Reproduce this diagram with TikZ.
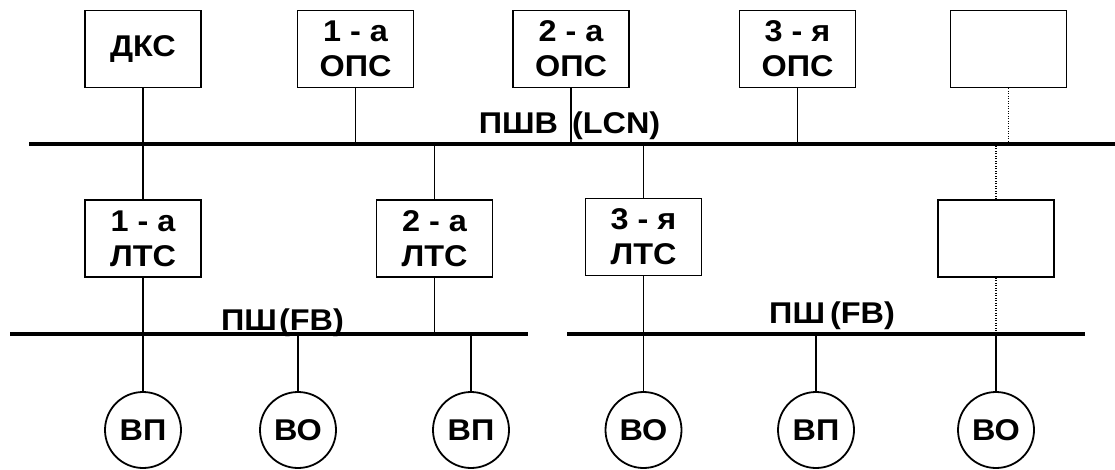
\documentclass[tikz,border=0pt]{standalone}
\usepackage{fontspec}
\setmainfont{Liberation Sans}[FakeStretch=1.08]
\begin{document}
\begin{tikzpicture}[x=1pt,y=-1pt,
    every node/.style={font=\fontsize{30}{35}\selectfont\bfseries},
    blok/.style={draw,line width=1.8pt,minimum width=116pt,minimum height=77pt,align=center,inner sep=0pt},
    pribor/.style={draw,circle,line width=1.8pt,minimum size=76pt,inner sep=0pt},
    shina/.style={line width=4.5pt},
    svyaz/.style={line width=1.3pt},
    punktir/.style={line width=1.2pt,dash pattern=on 1pt off 1.5pt}]
    \useasboundingbox (0,0) rectangle (1115,469);
    % stations on the LCN
    \node [blok] (dks)  at (143,49) {ДКС};
    \node [blok] (ops1) at (355.5,49) {1 - а\\ОПС};
    \node [blok] (ops2) at (571,49) {2 - а\\ОПС};
    \node [blok] (ops3) at (797.5,49) {3 - я\\ОПС};
    \node [blok] (topx) at (1008.5,49) {};
    \node [blok] (lts1) at (143,238.5) {1 - а\\ЛТС};
    \node [blok] (lts2) at (434.5,238.5) {2 - а\\ЛТС};
    \node [blok] (lts3) at (643.5,237) {3 - я\\ЛТС};
    \node [blok] (lowx) at (996,238.5) {};
    % field devices
    \node [pribor] (vp1) at (143,430) {ВП};
    \node [pribor] (vo1) at (298,430) {ВО};
    \node [pribor] (vp2) at (471,430) {ВП};
    \node [pribor] (vo2) at (643.5,430) {ВО};
    \node [pribor] (vp3) at (816,430) {ВП};
    \node [pribor] (vo3) at (996,430) {ВО};
    % buses
    \coordinate (lcnL) at (29,144);
    \coordinate (lcnR) at (1115,144);
    \coordinate (fbaL) at (10,334);
    \coordinate (fbaR) at (528,334);
    \coordinate (fbbL) at (567,334);
    \coordinate (fbbR) at (1085,334);
    \draw [shina] (lcnL) -- (lcnR);
    \draw [shina] (fbaL) -- (fbaR);
    \draw [shina] (fbbL) -- (fbbR);
    \node [anchor=base] (lcn) at (569.5,133) {ПШВ\hspace{14pt}(LCN)};
    \node [anchor=base] (fba) at (282.5,330) {ПШ\hspace{2pt}(FB)};
    \node [anchor=base] (fbb) at (832,323) {ПШ\hspace{5pt}(FB)};
    % taps
    \draw [svyaz] (dks) -- (lts1);
    \draw [svyaz] (ops1) -- (ops1 |- lcnL);
    \draw [svyaz] (ops2) -- (ops2 |- lcnL);
    \draw [svyaz] (ops3) -- (ops3 |- lcnL);
    \draw [punktir] (topx) -- (topx |- lcnL);
    \draw [svyaz] (lts2) -- (lts2 |- lcnL);
    \draw [svyaz] (lts3) -- (lts3 |- lcnL);
    \draw [punktir] (lowx) -- (lowx |- lcnL);
    \draw [svyaz] (lts1) -- (vp1);
    \draw [svyaz] (vo1) -- (vo1 |- fbaL);
    \draw [svyaz] (lts2) -- (lts2 |- fbaL);
    \draw [svyaz] (vp2) -- (vp2 |- fbaL);
    \draw [svyaz] (lts3) -- (vo2);
    \draw [svyaz] (vp3) -- (vp3 |- fbbL);
    \draw [punktir] (lowx) -- (lowx |- fbbL);
    \draw [svyaz] (vo3) -- (vo3 |- fbbL);
\end{tikzpicture}
\end{document}
